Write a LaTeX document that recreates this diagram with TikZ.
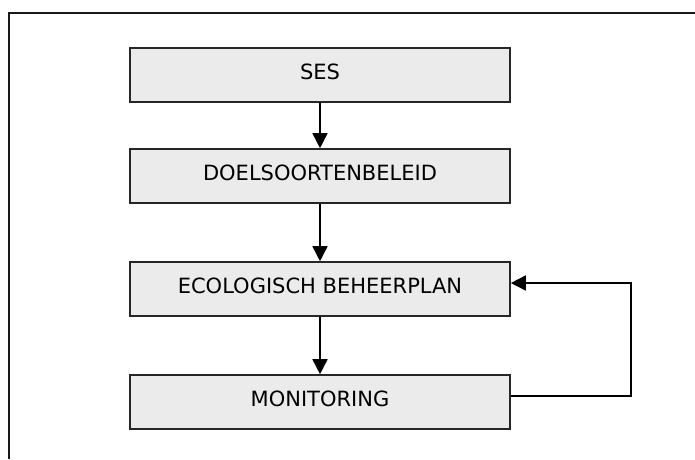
\documentclass[tikz,border=0pt]{standalone}
\usepackage{fontspec}
\setmainfont{DejaVu Sans}
\usetikzlibrary{arrows.meta}
\begin{document}
\begin{tikzpicture}[x=1pt,y=-1pt,
  stepbox/.style={draw=black!85, line width=1.6pt, fill=black!8,
    minimum width=380pt, minimum height=54pt, inner sep=0pt,
    font=\fontsize{21}{21}\selectfont, text depth=6pt},
  flow/.style={line width=1.6pt, -{Triangle[width=15pt,length=15pt]}}]
\useasboundingbox (0,0) rectangle (695,459);
\draw[line width=1.8pt, black!90] (9,459) -- (9,13) -- (695,13);
\node[stepbox] (ses) at (320,75) {SES};
\node[stepbox] (doel) at (320,176) {DOELSOORTENBELEID};
\node[stepbox] (eco) at (320,289) {ECOLOGISCH BEHEERPLAN};
\node[stepbox] (mon) at (320,402) {MONITORING};
\draw[flow] (ses) -- (doel);
\draw[flow] (doel) -- (eco);
\draw[flow] (eco) -- (mon);
\draw[flow] ([yshift=6pt]mon.east) -- ++(120,0) |- ([yshift=6pt]eco.east);
\end{tikzpicture}
\end{document}
